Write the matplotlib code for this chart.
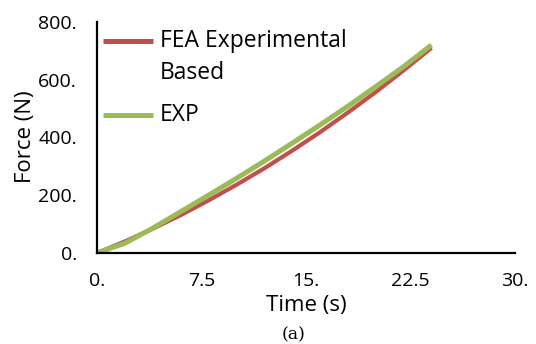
import matplotlib
matplotlib.use("Agg")
import matplotlib.pyplot as plt

plt.rcParams['font.family'] = ['Open Sans', 'DejaVu Sans']

time_fea = [0, 2, 4, 6, 8, 10, 12, 14, 16, 18, 20, 22, 24]
force_fea = [0, 40, 84, 131, 182, 236, 293, 354, 418, 486, 557, 632, 710]
time_exp = [0, 2, 4, 6, 8, 10, 12, 14, 16, 18, 20, 22, 24]
force_exp = [0, 34, 86, 143, 200, 258, 318, 380, 443, 508, 576, 645, 720]

x_ticks = [0, 7.5, 15, 22.5, 30]
x_tick_labels = ["0.", "7.5", "15.", "22.5", "30."]
y_ticks = [0, 200, 400, 600, 800]
y_tick_labels = ["0.", "200.", "400.", "600.", "800."]

series_labels = ["FEA Experimental", "Based", "EXP"]

red = "#C0504D"
green = "#9BBB59"

fig = plt.figure(figsize=(5.36, 3.44), dpi=100)
ax = fig.add_axes([0.181, 0.2645, 0.780, 0.672])

ax.plot(time_fea, force_fea, color=red, lw=3.0, solid_capstyle='butt')
ax.plot(time_exp, force_exp, color=green, lw=3.6, solid_capstyle='butt')

ax.set_xlim(0, 30)
ax.set_ylim(0, 800)
ax.set_xticks(x_ticks)
ax.set_xticklabels(x_tick_labels)
ax.set_yticks(y_ticks)
ax.set_yticklabels(y_tick_labels)
ax.tick_params(axis='both', length=0, labelsize=14)
ax.tick_params(axis='x', pad=14)
ax.tick_params(axis='y', pad=14.5)

for s in ['top', 'right']:
    ax.spines[s].set_visible(False)
for s in ['left', 'bottom']:
    ax.spines[s].set_linewidth(1.6)
    ax.spines[s].set_color('black')

fig.text(306 / 536, 1 - 305 / 344, "Time (s)", fontsize=16, ha='center', va='center')
fig.text(25 / 536, 1 - 137 / 344, "Force (N)", fontsize=16, rotation=90,
         ha='center', va='center')

# legend drawn in axes coordinates
tr = ax.transAxes
ax.plot([0.0144, 0.134], [0.918, 0.918], color=red, lw=3.6, transform=tr,
        clip_on=False, solid_capstyle='butt')
ax.plot([0.0144, 0.134], [0.597, 0.597], color=green, lw=3.6, transform=tr,
        clip_on=False, solid_capstyle='butt')
ax.text(0.151, 0.918, series_labels[0], transform=tr, fontsize=16.5,
        ha='left', va='center')
ax.text(0.151, 0.779, series_labels[1], transform=tr, fontsize=16.5,
        ha='left', va='center')
ax.text(0.151, 0.597, series_labels[2], transform=tr, fontsize=16.5,
        ha='left', va='center')

fig.text(294 / 536, 1 - 335 / 344, "(a)", fontsize=12.5, family='DejaVu Serif',
         ha='center', va='center')

fig.savefig("out.png", dpi=100)
